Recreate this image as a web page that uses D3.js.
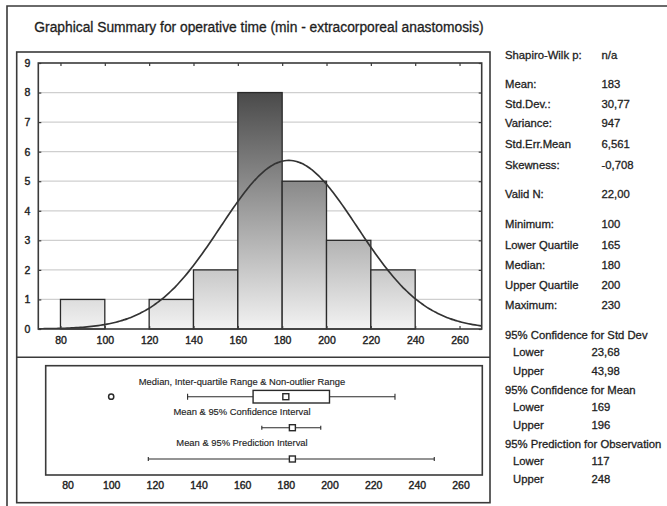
<!DOCTYPE html>
<html>
<head>
<meta charset="utf-8">
<script src="https://cdn.jsdelivr.net/npm/d3@7"></script>
<style>
  html, body { margin: 0; padding: 0; background: #fff; }
  svg { display: block; font-family: "Liberation Sans", Arial, sans-serif; }
</style>
</head>
<body>
<svg id="chart" width="667" height="506"></svg>
<script>
// Histogram bins (lower edges, width 20 min) and counts
const binStarts = [80, 100, 120, 140, 160, 180, 200, 220];
const binWidth = 20;
const counts = [1, 0, 1, 2, 8, 5, 3, 2];
const xTicks = [80, 100, 120, 140, 160, 180, 200, 220, 240, 260];
const yTicks = [0, 1, 2, 3, 4, 5, 6, 7, 8, 9];

// Summary values
const sampleN = 22;
const mean = 183;
const stdDev = 30.77;
const outliers = [100];
const whisker = [135, 230];
const quartiles = [165, 200];
const median = 180;
const ciMean = [169, 196];
const predInterval = [117, 248];

// Text column on the right
const statLabels = ["Shapiro-Wilk p:", "Mean:", "Std.Dev.:", "Variance:", "Std.Err.Mean", "Skewness:",
  "Valid N:", "Minimum:", "Lower Quartile", "Median:", "Upper Quartile", "Maximum:"];
const statValues = ["n/a", "183", "30,77", "947", "6,561", "-0,708",
  "22,00", "100", "165", "180", "200", "230"];
const statY = [55, 84, 103.5, 123, 144, 164.5, 194, 224, 244.5, 265, 285, 305];

const intervalHeads = ["95% Confidence for Std Dev", "95% Confidence for Mean", "95% Prediction for Observation"];
const intervalLower = ["23,68", "169", "117"];
const intervalUpper = ["43,98", "196", "248"];
const intervalY = [335, 389.5, 443.5];

const rowLabels = ["Median, Inter-quartile Range & Non-outlier Range",
  "Mean & 95% Confidence Interval", "Mean & 95% Prediction Interval"];

const svg = d3.select("#chart");
const ink = "#1e1e1e";

// outer frame (left and top edges)
svg.append("path").attr("d", "M7,506V6H667").attr("fill", "none")
  .attr("stroke", "#3a3a3a").attr("stroke-width", 1.6);

// title
svg.append("text").attr("x", 259).attr("y", 27).attr("text-anchor", "middle")
  .attr("dominant-baseline", "central").attr("font-size", 13.8).attr("fill", ink)
  .attr("stroke", ink).attr("stroke-width", 0.3)
  .text("Graphical Summary for operative time (min - extracorporeal anastomosis)");

// panel frame with divider
svg.append("rect").attr("x", 16.7).attr("y", 52).attr("width", 473.3).attr("height", 450.7)
  .attr("fill", "none").attr("stroke", "#3a3a3a").attr("stroke-width", 1.6);
svg.append("line").attr("x1", 16.7).attr("x2", 490).attr("y1", 357.3).attr("y2", 357.3)
  .attr("stroke", "#3a3a3a").attr("stroke-width", 1.6);

// ---- histogram ----
const x = d3.scaleLinear().domain([70, 270]).range([38.3, 481.7]);
const y = d3.scaleLinear().domain([0, 9]).range([329, 63]);

const defs = svg.append("defs");
const grad = defs.append("linearGradient").attr("id", "barFill")
  .attr("gradientUnits", "userSpaceOnUse")
  .attr("x1", 0).attr("x2", 0).attr("y1", y(8)).attr("y2", y(0));
grad.append("stop").attr("offset", 0).attr("stop-color", "#4a4a4a");
grad.append("stop").attr("offset", 1).attr("stop-color", "#f2f2f2");

defs.append("clipPath").attr("id", "plotClip").append("rect")
  .attr("x", x(70)).attr("y", y(9)).attr("width", x(270) - x(70)).attr("height", y(0) - y(9));

// grid
svg.append("g").selectAll("line").data(yTicks.slice(1, -1)).join("line")
  .attr("x1", x(70)).attr("x2", x(270)).attr("y1", d => y(d)).attr("y2", d => y(d))
  .attr("stroke", "#cfcfcf").attr("stroke-width", 1.3);

// bars
const bins = binStarts.map((b, i) => ({ x0: b, x1: b + binWidth, n: counts[i] })).filter(d => d.n > 0);
svg.append("g").selectAll("rect").data(bins).join("rect")
  .attr("x", d => x(d.x0)).attr("width", d => x(d.x1) - x(d.x0))
  .attr("y", d => y(d.n)).attr("height", d => y(0) - y(d.n))
  .attr("fill", "url(#barFill)").attr("stroke", "#2a2a2a").attr("stroke-width", 1.3);

// fitted normal curve scaled to counts
const curveX = d3.range(70, 270.5, 1);
const scaleK = sampleN * binWidth / (stdDev * Math.sqrt(2 * Math.PI));
const curve = d3.line()
  .x(v => x(v))
  .y(v => y(scaleK * Math.exp(-0.5 * ((v - mean) / stdDev) ** 2)))
  .curve(d3.curveBasis);
svg.append("path").datum(curveX).attr("d", curve).attr("clip-path", "url(#plotClip)")
  .attr("fill", "none").attr("stroke", "#333").attr("stroke-width", 1.7);

// plot frame and axes
svg.append("rect").attr("x", x(70)).attr("y", y(9)).attr("width", x(270) - x(70)).attr("height", y(0) - y(9))
  .attr("fill", "none").attr("stroke", "#3a3a3a").attr("stroke-width", 1.6);

const tickStyle = g => {
  g.select(".domain").remove();
  g.selectAll(".tick line").attr("stroke", "#3a3a3a").attr("stroke-width", 1.2);
  g.selectAll(".tick text").attr("fill", ink).attr("stroke", ink).attr("stroke-width", 0.4)
    .attr("font-size", 10.5).attr("font-family", "Liberation Sans, Arial, sans-serif");
};
svg.append("g").attr("transform", `translate(0,${y(0)})`)
  .call(d3.axisBottom(x).tickValues(xTicks).tickSizeInner(-3).tickSizeOuter(0).tickPadding(8))
  .call(tickStyle);
svg.append("g").attr("transform", `translate(0,${y(9)})`)
  .call(d3.axisTop(x).tickValues(xTicks).tickSizeInner(-3).tickSizeOuter(0).tickFormat(""))
  .call(tickStyle);
svg.append("g").attr("transform", `translate(${x(70)},0)`)
  .call(d3.axisLeft(y).tickValues(yTicks).tickSizeInner(-3).tickSizeOuter(0).tickPadding(8))
  .call(tickStyle);
svg.append("g").attr("transform", `translate(${x(270)},0)`)
  .call(d3.axisRight(y).tickValues(yTicks).tickSizeInner(-3).tickSizeOuter(0).tickFormat(""))
  .call(tickStyle);

// ---- interval panel ----
const xb = d3.scaleLinear().domain([70, 270]).range([45.7, 482.3]);
svg.append("rect").attr("x", xb(70)).attr("y", 365.7).attr("width", xb(270) - xb(70)).attr("height", 109.3)
  .attr("fill", "none").attr("stroke", "#3a3a3a").attr("stroke-width", 1.6);

svg.append("g").attr("transform", "translate(0,475)")
  .call(d3.axisBottom(xb).tickValues(xTicks).tickSize(0).tickPadding(7))
  .call(tickStyle);

const rowTextY = [381, 411.5, 442.5];
svg.append("g").selectAll("text").data(rowLabels).join("text")
  .attr("x", 242).attr("y", (d, i) => rowTextY[i]).attr("text-anchor", "middle")
  .attr("dominant-baseline", "central").attr("font-size", 9.4).attr("fill", ink)
  .attr("stroke", ink).attr("stroke-width", 0.15)
  .text(d => d);

const lineColor = "#2a2a2a";
const markSq = (g, cx, cy) => g.append("rect").attr("x", cx - 3).attr("y", cy - 3).attr("width", 6).attr("height", 6)
  .attr("fill", "#fff").attr("stroke", lineColor).attr("stroke-width", 1.4);
const whiskerLine = (g, a, b, cy, cap) => {
  g.append("line").attr("x1", xb(a)).attr("x2", xb(b)).attr("y1", cy).attr("y2", cy)
    .attr("stroke", lineColor).attr("stroke-width", 1.1);
  [a, b].forEach(v => g.append("line").attr("x1", xb(v)).attr("x2", xb(v))
    .attr("y1", cy - cap).attr("y2", cy + cap).attr("stroke", lineColor).attr("stroke-width", 1.1));
};

// box plot row
const row1 = svg.append("g");
const boxY = 396.7;
whiskerLine(row1, whisker[0], whisker[1], boxY, 3);
row1.append("rect").attr("x", xb(quartiles[0])).attr("y", boxY - 6.3)
  .attr("width", xb(quartiles[1]) - xb(quartiles[0])).attr("height", 12.6)
  .attr("fill", "#fff").attr("stroke", lineColor).attr("stroke-width", 1.4);
markSq(row1, xb(median), boxY);
row1.selectAll("circle").data(outliers).join("circle")
  .attr("cx", d => xb(d)).attr("cy", boxY).attr("r", 2.6)
  .attr("fill", "#fff").attr("stroke", lineColor).attr("stroke-width", 1.5);

// confidence interval for mean
const row2 = svg.append("g");
whiskerLine(row2, ciMean[0], ciMean[1], 427.7, 2);
markSq(row2, xb(mean), 427.7);

// prediction interval
const row3 = svg.append("g");
whiskerLine(row3, predInterval[0], predInterval[1], 459, 2);
markSq(row3, xb(mean), 459);

// ---- statistics column ----
const col = svg.append("g").attr("font-size", 11.3).attr("fill", ink)
  .attr("stroke", ink).attr("stroke-width", 0.3);
col.selectAll("text.lbl").data(statLabels).join("text").attr("class", "lbl")
  .attr("x", 505).attr("y", (d, i) => statY[i]).attr("dominant-baseline", "central").text(d => d);
col.selectAll("text.val").data(statValues).join("text").attr("class", "val")
  .attr("x", 601.5).attr("y", (d, i) => statY[i]).attr("dominant-baseline", "central").text(d => d);

intervalHeads.forEach((h, i) => {
  const y0 = intervalY[i];
  col.append("text").attr("x", 505).attr("y", y0).attr("dominant-baseline", "central").text(h);
  col.append("text").attr("x", 513).attr("y", y0 + 17).attr("dominant-baseline", "central").text("Lower");
  col.append("text").attr("x", 591.5).attr("y", y0 + 17).attr("dominant-baseline", "central").text(intervalLower[i]);
  col.append("text").attr("x", 513).attr("y", y0 + 35.5).attr("dominant-baseline", "central").text("Upper");
  col.append("text").attr("x", 591.5).attr("y", y0 + 35.5).attr("dominant-baseline", "central").text(intervalUpper[i]);
});
</script>
</body>
</html>
